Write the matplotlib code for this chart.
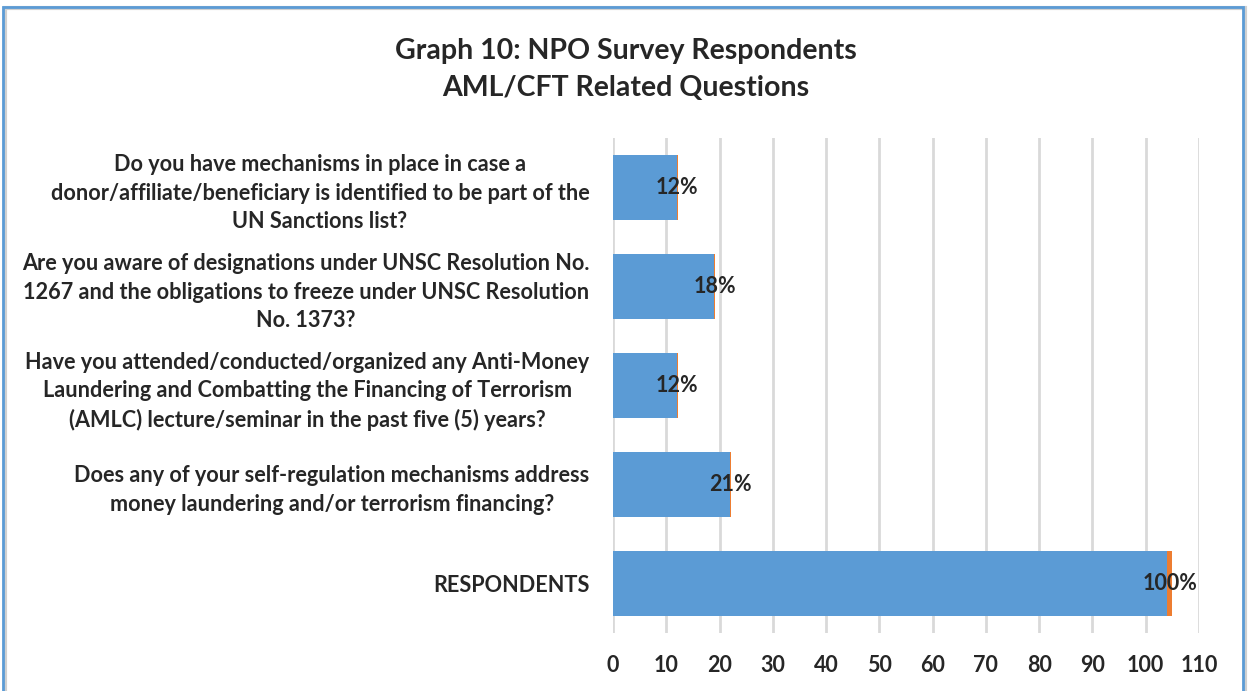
import matplotlib
matplotlib.use('Agg')
from matplotlib import pyplot
from matplotlib.patches import Rectangle

questions = [
    'Do you have mechanisms in place in case a\n'
    'donor/affiliate/beneficiary is identified to be part of the\n'
    'UN Sanctions list?',
    'Are you aware of designations under UNSC Resolution No.\n'
    '1267 and the obligations to freeze under UNSC Resolution\n'
    'No. 1373?',
    'Have you attended/conducted/organized any Anti-Money\n'
    'Laundering and Combatting the Financing of Terrorism\n'
    '(AMLC) lecture/seminar in the past five (5) years?',
    'Does any of your self-regulation mechanisms address\n'
    'money laundering and/or terrorism financing?',
    'RESPONDENTS',
]
counts = [12, 19, 12, 22, 104]
shares = [0.12, 0.18, 0.12, 0.21, 1.00]
ticks = [0, 10, 20, 30, 40, 50, 60, 70, 80, 90, 100, 110]

BLUE = '#5B9BD5'
ORANGE = '#ED7D31'
TEXT = '#262626'
FONT = 'Lato'

fig = pyplot.figure(figsize=(12.48, 6.91), dpi=100)
ax = fig.add_axes([613 / 1248, 58 / 691, 586 / 1248, 495 / 691])

pos = list(range(len(questions)))
ax.barh(pos, counts, height=0.65, color=BLUE, zorder=3)
ax.barh(pos, shares, left=counts, height=0.65, color=ORANGE, zorder=3)

for y, c, s in zip(pos, counts, shares):
    ax.text(c + s / 2, y, '{:.0f}%'.format(s * 100), ha='center', va='center',
            fontsize=15.5, fontweight='bold', family=FONT, color=TEXT, zorder=4)

ax.set_xlim(0, 110)
ax.set_ylim(len(questions) - 0.5, -0.5)
ax.set_xticks(ticks)
ax.set_yticks(pos)
ax.set_yticklabels(questions, fontsize=15.6, fontweight='bold', family=FONT,
                   color=TEXT, ha='right', multialignment='center', linespacing=1.42)
for lab in ax.get_xticklabels():
    lab.set_fontsize(15.5)
    lab.set_fontweight('bold')
    lab.set_family(FONT)
    lab.set_color(TEXT)
ax.tick_params(axis='y', length=0, pad=17)
ax.tick_params(axis='x', length=0, pad=16)
ax.grid(axis='x', color='#D9D9D9', linewidth=2, zorder=0)
for sp in ax.spines.values():
    sp.set_visible(False)

fig.text(626 / 1248, 1 - 51 / 691, 'Graph 10: NPO Survey Respondents', ha='center', va='center',
         fontsize=20.5, fontweight='bold', family=FONT, color=TEXT)
fig.text(626 / 1248, 1 - 88 / 691, 'AML/CFT Related Questions', ha='center', va='center',
         fontsize=20.5, fontweight='bold', family=FONT, color=TEXT)

# chart frame
fig.patches.append(Rectangle((5 / 1248, -0.1), 1240 / 1248, 1.1 - 8 / 691,
                             transform=fig.transFigure, fill=False,
                             edgecolor='#D0D0D0', linewidth=3))
fig.patches.append(Rectangle((3 / 1248, -0.1), 1240 / 1248, 1.1 - 7 / 691,
                             transform=fig.transFigure, fill=False,
                             edgecolor=BLUE, linewidth=2))

fig.savefig('out.png', dpi=100)
